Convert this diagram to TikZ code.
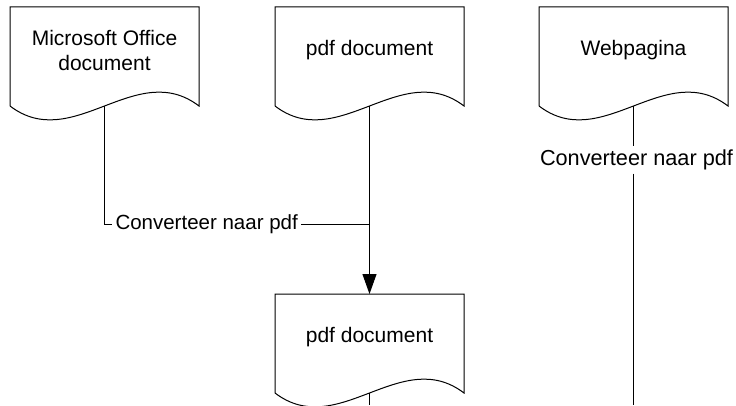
\documentclass[tikz,border=0pt]{standalone}
\usepackage{fontspec}
\setmainfont{Liberation Sans}
\usetikzlibrary{calc}
\usetikzlibrary{arrows.meta}
\newcommand{\DocShape}[3]% #1=name, #2=top left corner, #3=text
{\coordinate (#1-tl) at (#2);
    \coordinate (#1-tr) at ($(#1-tl)+(189,0)$);
    \coordinate (#1-bl) at ($(#1-tl)+(0,-99)$);
    \coordinate (#1-br) at ($(#1-tl)+(189,-99)$);
    \coordinate (#1-w) at ($(#1-bl)!0.5!(#1-br)$);%wave centre
    \draw (#1-bl) -- (#1-tl) -- (#1-tr) -- (#1-br)
      .. controls ($(#1-br)+(-63,48)$) and ($(#1-bl)+(63,-48)$) .. (#1-bl);
    \node[doctext] (#1) at ($(#1-tl)+(94.5,-43)$) {#3};
}

\begin{document}
\begin{tikzpicture}[x=1pt, y=1pt, line width=1pt,
    doctext/.style={align=center, inner sep=0pt, font=\fontsize{21}{25}\selectfont},
    convlabel/.style={inner sep=3pt, font=\fontsize{#1}{24}\selectfont},
    convlabel/.default=20.5]
  \clip (0,0) rectangle (736,405);
  % documents
  \DocShape{office}{10,398}{Microsoft Office\\document}
  \DocShape{pdfin}{275,398}{pdf document}
  \DocShape{web}{539,398}{Webpagina}
  \DocShape{pdfout}{275,111}{pdf document}
  \coordinate (webend) at (633.5,0);
  % labels
  \node[convlabel, anchor=west] (conv1) at (112,181) {Converteer naar pdf};
  \node[convlabel=21.7] (conv2) at (636.5,245) {Converteer naar pdf};
  % connectors
  \draw (office-w) |- (conv1.west);
  \draw (conv1.east) -- (conv1.east -| pdfin-w);
  \draw[-{Triangle[length=20pt, width=14pt]}] (pdfin-w) -- (pdfout-tl -| pdfin-w);
  \draw (web-w) -- (web-w |- conv2.north);
  \draw (web-w |- conv2.south) -- (webend);
  \draw (pdfout-w) -- (pdfout-w |- webend);
\end{tikzpicture}
\end{document}
